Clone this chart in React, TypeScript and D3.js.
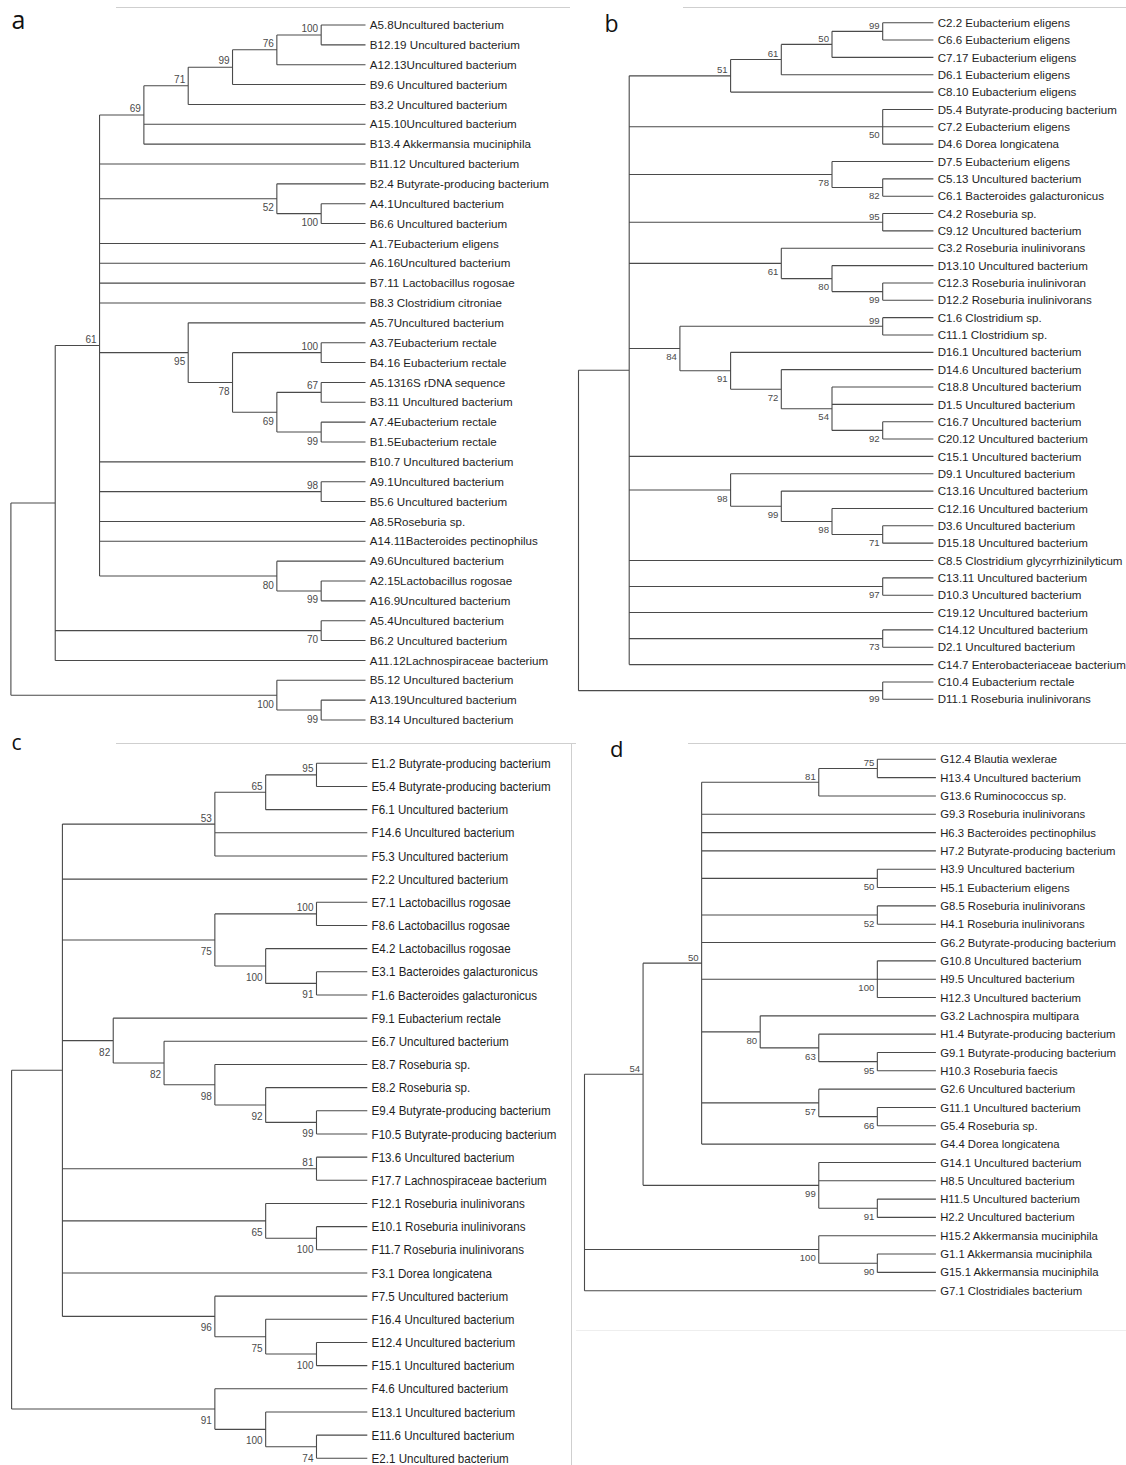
import React from "react";
import * as d3 from "d3";

// Trees in Newick form: internal labels are bootstrap values; "^" = value drawn above its branch
const treeA = `(
(
(
(((((A5.8Uncultured bacterium,B12.19 Uncultured bacterium)100^,A12.13Uncultured bacterium)76^,B9.6 Uncultured bacterium)99^,B3.2 Uncultured bacterium)71^,A15.10Uncultured bacterium,B13.4 Akkermansia muciniphila)69^,
B11.12 Uncultured bacterium,
(B2.4 Butyrate-producing bacterium,(A4.1Uncultured bacterium,B6.6 Uncultured bacterium)100)52,
A1.7Eubacterium eligens,
A6.16Uncultured bacterium,
B7.11 Lactobacillus rogosae,
B8.3 Clostridium citroniae,
(A5.7Uncultured bacterium,((A3.7Eubacterium rectale,B4.16 Eubacterium rectale)100^,((A5.1316S rDNA sequence,B3.11 Uncultured bacterium)67^,(A7.4Eubacterium rectale,B1.5Eubacterium rectale)99)69)78)95,
B10.7 Uncultured bacterium,
(A9.1Uncultured bacterium,B5.6 Uncultured bacterium)98^,
A8.5Roseburia sp.,
A14.11Bacteroides pectinophilus,
(A9.6Uncultured bacterium,(A2.15Lactobacillus rogosae,A16.9Uncultured bacterium)99)80
)61^,
(A5.4Uncultured bacterium,B6.2 Uncultured bacterium)70,
A11.12Lachnospiraceae bacterium
),
(B5.12 Uncultured bacterium,(A13.19Uncultured bacterium,B3.14 Uncultured bacterium)99)100
)`;

const treeB = `(
(
((((C2.2 Eubacterium eligens,C6.6 Eubacterium eligens)99^,C7.17 Eubacterium eligens)50^,D6.1 Eubacterium eligens)61^,C8.10 Eubacterium eligens)51^,
(D5.4 Butyrate-producing bacterium,C7.2 Eubacterium eligens,D4.6 Dorea longicatena)50,
(D7.5 Eubacterium eligens,(C5.13 Uncultured bacterium,C6.1 Bacteroides galacturonicus)82)78,
(C4.2 Roseburia sp.,C9.12 Uncultured bacterium)95^,
(C3.2 Roseburia inulinivorans,(D13.10 Uncultured bacterium,(C12.3 Roseburia inulinivoran,D12.2 Roseburia inulinivorans)99)80)61,
((C1.6 Clostridium sp.,C11.1 Clostridium sp.)99^,(D16.1 Uncultured bacterium,(D14.6 Uncultured bacterium,(C18.8 Uncultured bacterium,D1.5 Uncultured bacterium,(C16.7 Uncultured bacterium,C20.12 Uncultured bacterium)92)54)72)91)84,
C15.1 Uncultured bacterium,
(D9.1 Uncultured bacterium,(C13.16 Uncultured bacterium,(C12.16 Uncultured bacterium,(D3.6 Uncultured bacterium,D15.18 Uncultured bacterium)71)98)99)98,
C8.5 Clostridium glycyrrhizinilyticum,
(C13.11 Uncultured bacterium,D10.3 Uncultured bacterium)97,
C19.12 Uncultured bacterium,
(C14.12 Uncultured bacterium,D2.1 Uncultured bacterium)73,
C14.7 Enterobacteriaceae bacterium
),
(C10.4 Eubacterium rectale,D11.1 Roseburia inulinivorans)99
)`;

const treeC = `(
(
(((E1.2 Butyrate-producing bacterium,E5.4 Butyrate-producing bacterium)95^,F6.1 Uncultured bacterium)65^,F14.6 Uncultured bacterium,F5.3 Uncultured bacterium)53^,
F2.2 Uncultured bacterium,
((E7.1 Lactobacillus rogosae,F8.6 Lactobacillus rogosae)100^,(E4.2 Lactobacillus rogosae,(E3.1 Bacteroides galacturonicus,F1.6 Bacteroides galacturonicus)91)100)75,
(F9.1 Eubacterium rectale,(E6.7 Uncultured bacterium,(E8.7 Roseburia sp.,(E8.2 Roseburia sp.,(E9.4 Butyrate-producing bacterium,F10.5 Butyrate-producing bacterium)99)92)98)82)82,
(F13.6 Uncultured bacterium,F17.7 Lachnospiraceae bacterium)81^,
(F12.1 Roseburia inulinivorans,(E10.1 Roseburia inulinivorans,F11.7 Roseburia inulinivorans)100)65,
F3.1 Dorea longicatena,
(F7.5 Uncultured bacterium,(F16.4 Uncultured bacterium,(E12.4 Uncultured bacterium,F15.1 Uncultured bacterium)100)75)96
),
(F4.6 Uncultured bacterium,(E13.1 Uncultured bacterium,(E11.6 Uncultured bacterium,E2.1 Uncultured bacterium)74)100)91
)`;

const treeD = `(
(
(
((G12.4 Blautia wexlerae,H13.4 Uncultured bacterium)75^,G13.6 Ruminococcus sp.)81^,
G9.3 Roseburia inulinivorans,
H6.3 Bacteroides pectinophilus,
H7.2 Butyrate-producing bacterium,
(H3.9 Uncultured bacterium,H5.1 Eubacterium eligens)50,
(G8.5 Roseburia inulinivorans,H4.1 Roseburia inulinivorans)52,
G6.2 Butyrate-producing bacterium,
(G10.8 Uncultured bacterium,H9.5 Uncultured bacterium,H12.3 Uncultured bacterium)100,
(G3.2 Lachnospira multipara,(H1.4 Butyrate-producing bacterium,(G9.1 Butyrate-producing bacterium,H10.3 Roseburia faecis)95)63)80,
(G2.6 Uncultured bacterium,(G11.1 Uncultured bacterium,G5.4 Roseburia sp.)66)57,
G4.4 Dorea longicatena
)50^,
(G14.1 Uncultured bacterium,H8.5 Uncultured bacterium,(H11.5 Uncultured bacterium,H2.2 Uncultured bacterium)91)99
)54^,
(H15.2 Akkermansia muciniphila,(G1.1 Akkermansia muciniphila,G15.1 Akkermansia muciniphila)90)100,
G7.1 Clostridiales bacterium
)`;

const panelLetters = ["a", "b", "c", "d"];

type TNode = { name: string; label: string; above: boolean; children?: TNode[] };

function parseNewick(src: string): TNode {
  const s = src.replace(/\n\s*/g, "");
  let i = 0;
  const readName = () => {
    const start = i;
    while (i < s.length && s[i] !== "," && s[i] !== ")" && s[i] !== "(" && s[i] !== ";") i++;
    return s.slice(start, i).trim();
  };
  const node = (): TNode => {
    if (s[i] === "(") {
      i++;
      const children: TNode[] = [];
      while (true) {
        children.push(node());
        if (s[i] === ",") { i++; continue; }
        if (s[i] === ")") { i++; break; }
        break;
      }
      let lab = readName();
      const above = lab.endsWith("^");
      if (above) lab = lab.slice(0, -1);
      return { name: "", label: lab, above, children };
    }
    return { name: readName(), label: "", above: false };
  };
  return node();
}

type PanelProps = {
  tree: string;
  leafX: number;
  rootX: number;
  y0: number;
  y1: number;
  sy: number;
  aboveDy: number;
  belowDy: number;
  fs: number;
  bfs: number;
};

const FONT = "'Liberation Sans', Arial, sans-serif";

function Tree({ tree, leafX, rootX, y0, y1, sy, aboveDy, belowDy, fs, bfs }: PanelProps) {
  const root = d3.hierarchy<TNode>(parseNewick(tree));
  const leaves = root.leaves();
  const row = new Map<any, number>();
  leaves.forEach((l, i) => row.set(l, i));
  root.eachAfter((n) => {
    if (n.children) {
      const c = n.children;
      row.set(n, (row.get(c[0])! + row.get(c[c.length - 1])!) / 2);
    }
  });
  const x = d3.scaleLinear().domain([root.height, 0]).range([rootX, leafX]);
  const y = d3.scaleLinear().domain([0, leaves.length - 1]).range([y0, y1]);

  const path = d3.path();
  root.each((n) => {
    if (!n.children) return;
    const c = n.children;
    const nx = x(n.height);
    path.moveTo(nx, y(row.get(c[0])!));
    path.lineTo(nx, y(row.get(c[c.length - 1])!));
    c.forEach((ch) => {
      const cy = y(row.get(ch)!);
      path.moveTo(nx, cy);
      path.lineTo(x(ch.height), cy);
    });
  });

  const internal = root.descendants().filter((n) => n.children && n.data.label);

  return (
    <g>
      <path d={path.toString()} fill="none" stroke="#4a4a4a" strokeWidth={1.1} />
      {leaves.map((l, i) => (
        <text
          key={"l" + i}
          transform={`translate(${leafX + 4.3},${y(row.get(l)!)}) scale(1,${sy})`}
          dy="0.36em"
          fontFamily={FONT}
          fontSize={fs}
          fill="#1e1e1e"
        >
          {l.data.name}
        </text>
      ))}
      {internal.map((n, i) => (
        <text
          key={"b" + i}
          transform={`translate(${x(n.height) - 3},${y(row.get(n)!) + (n.data.above ? aboveDy : belowDy)}) scale(1,${sy})`}
          textAnchor="end"
          fontFamily={FONT}
          fontSize={bfs}
          fill="#4a4a4a"
        >
          {n.data.label}
        </text>
      ))}
    </g>
  );
}

export default function App() {
  const letterFont = "'Open Sans', 'Noto Sans', sans-serif";
  return (
    <svg
      width={1126}
      height={1465}
      style={{ position: "absolute", left: 0, top: 0, background: "#fff" }}
    >
      <rect width={1126} height={1465} fill="#fff" />
      {/* faint frame lines */}
      <g stroke="#cfcfcf" strokeWidth={1}>
        <line x1={116} x2={570} y1={7.5} y2={7.5} />
        <line x1={683} x2={1126} y1={7.5} y2={7.5} />
        <line x1={116} x2={576} y1={743.5} y2={743.5} />
        <line x1={571.5} x2={571.5} y1={743.5} y2={1465} />
        <line x1={688} x2={1126} y1={743.5} y2={743.5} />
        <line x1={576} x2={1126} y1={1330.5} y2={1330.5} stroke="#eeeeee" />
      </g>
      <text x={11.5} y={29.3} fontFamily={letterFont} fontSize={25} fill="#111">{panelLetters[0]}</text>
      <text x={604.5} y={31.7} fontFamily={letterFont} fontSize={23} fill="#111">{panelLetters[1]}</text>
      <text x={11.5} y={750} fontFamily={letterFont} fontSize={21} fill="#111">{panelLetters[2]}</text>
      <text x={610} y={756.7} fontFamily={letterFont} fontSize={22} fill="#111">{panelLetters[3]}</text>

      <Tree tree={treeA} leafX={365.5} rootX={10.9} y0={25} y1={720} sy={1} aboveDy={-3} belowDy={12.5} fs={11.6} bfs={10} />
      <Tree tree={treeB} leafX={933.4} rootX={578.5} y0={22.7} y1={699.3} sy={1} aboveDy={-2.5} belowDy={11.5} fs={11.55} bfs={9.6} />
      <Tree tree={treeC} leafX={367.3} rootX={11.6} y0={763.3} y1={1458.3} sy={1.12} aboveDy={-2.5} belowDy={15} fs={11.6} bfs={10} />
      <Tree tree={treeD} leafX={935.9} rootX={584.5} y0={759.3} y1={1290.7} sy={1} aboveDy={-2.5} belowDy={12} fs={11.3} bfs={9.6} />
    </svg>
  );
}
